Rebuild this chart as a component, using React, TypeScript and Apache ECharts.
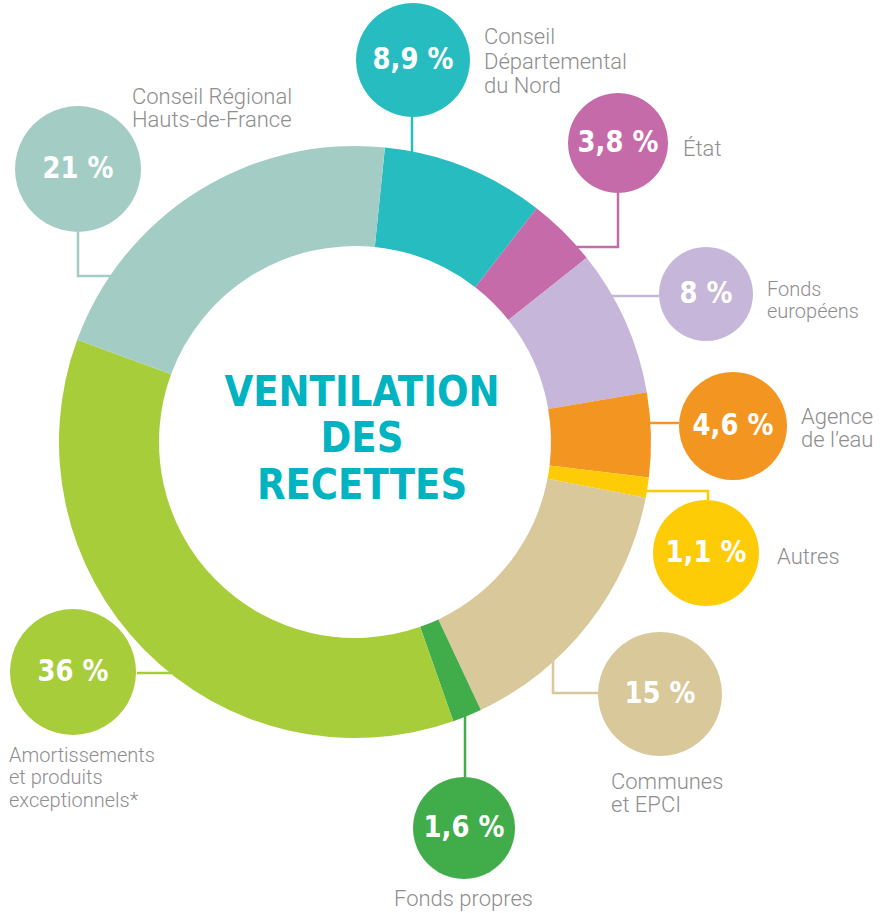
import React, { useEffect, useRef } from "react";
import * as echarts from "echarts";

// ---- data (clockwise from top) ----
const categories = [
  "Conseil Départemental du Nord",
  "État",
  "Fonds européens",
  "Agence de l'eau",
  "Autres",
  "Communes et EPCI",
  "Fonds propres",
  "Amortissements et produits exceptionnels*",
  "Conseil Régional Hauts-de-France",
];
const values = [8.9, 3.8, 8, 4.6, 1.1, 15, 1.6, 36, 21];
const labelLines = [
  ["Conseil", "Départemental", "du Nord"],
  ["État"],
  ["Fonds", "européens"],
  ["Agence", "de l’eau"],
  ["Autres"],
  ["Communes", "et EPCI"],
  ["Fonds propres"],
  ["Amortissements", "et produits", "exceptionnels*"],
  ["Conseil Régional", "Hauts-de-France"],
];
const titleLines = ["VENTILATION", "DES", "RECETTES"];

// ---- styles / layout ----
const colors = [
  "#27BCBF",
  "#C56BA9",
  "#C6B6D9",
  "#F39521",
  "#FECB07",
  "#D8C89A",
  "#40AD4A",
  "#A7CD3A",
  "#A3CDC4",
];
const CENTER = [355, 442];
// bubble: cx, cy, r ; connector polyline points ; label x, block centre y, lineHeight, font size
const bubbles = [
  { cx: 413, cy: 60, r: 57, line: [[412, 117], [412, 156]], lx: 484, ly: 61, lh: 24.5, fs: 22 },
  { cx: 618, cy: 143, r: 50, line: [[618, 193], [618, 247], [572, 247]], lx: 683, ly: 148, lh: 22, fs: 22 },
  { cx: 706, cy: 294, r: 47, line: [[659, 296], [610, 296]], lx: 767, ly: 300, lh: 22.5, fs: 20 },
  { cx: 733, cy: 426, r: 54, line: [[679, 423], [648, 423]], lx: 801, ly: 428, lh: 23.5, fs: 22 },
  { cx: 706, cy: 553, r: 53, line: [[708, 500], [708, 491], [645, 491]], lx: 777, ly: 556, lh: 22, fs: 22 },
  { cx: 660, cy: 694, r: 62, line: [[598, 693], [553, 693], [553, 660]], lx: 611, ly: 793, lh: 23.5, fs: 22 },
  { cx: 464, cy: 828, r: 51, line: [[465, 777], [465, 712]], lx: 394, ly: 898, lh: 22, fs: 22 },
  { cx: 73, cy: 672, r: 63, line: [[137, 673], [172, 673]], lx: 9, ly: 777, lh: 22.5, fs: 20 },
  { cx: 78, cy: 169, r: 63, line: [[78, 232], [78, 276], [113, 276]], lx: 132, ly: 107.5, lh: 23, fs: 22 },
];

const fmt = (v: number) => String(v).replace(".", ",") + " %";

export default function App() {
  const ref = useRef<HTMLDivElement>(null);
  useEffect(() => {
    if (!ref.current) return;
    const chart = echarts.init(ref.current, null, { renderer: "svg" });
    const graphics: any[] = [];
    bubbles.forEach((b, i) => {
      graphics.push({
        type: "polyline",
        shape: { points: b.line },
        style: { stroke: colors[i], lineWidth: 2.5, fill: null },
        z: 1,
      });
      graphics.push({
        type: "circle",
        shape: { cx: b.cx, cy: b.cy, r: b.r },
        style: { fill: colors[i] },
        z: 2,
      });
      graphics.push({
        type: "text",
        x: b.cx,
        y: b.cy - 1,
        scaleX: 0.96,
        style: {
          text: fmt(values[i]),
          fill: "#ffffff",
          font: "bold 30px 'DejaVu Sans Condensed', 'DejaVu Sans', sans-serif",
          align: "center",
          verticalAlign: "middle",
        },
        z: 3,
      });
      graphics.push({
        type: "text",
        x: b.lx,
        y: b.ly,
        style: {
          text: labelLines[i].join("\n"),
          fill: "#8e8e8e",
          fontFamily: "Roboto, 'Liberation Sans', sans-serif",
          fontWeight: 300,
          fontSize: b.fs,
          lineHeight: b.lh,
          align: "left",
          verticalAlign: "middle",
        },
        z: 3,
      });
    });
    graphics.push({
      type: "text",
      x: 362,
      y: 437.5,
      scaleX: 0.96,
      style: {
        text: titleLines.join("\n"),
        fill: "#00B3C1",
        fontFamily: "'DejaVu Sans Condensed', 'DejaVu Sans', sans-serif",
        fontWeight: "bold",
        fontSize: 43,
        lineHeight: 46.5,
        align: "center",
        verticalAlign: "middle",
      },
      z: 3,
    });

    chart.setOption({
      animation: false,
      backgroundColor: "#ffffff",
      series: [
        {
          type: "pie",
          center: CENTER,
          radius: [196, 296],
          startAngle: 84.2,
          clockwise: true,
          label: { show: false },
          labelLine: { show: false },
          silent: true,
          itemStyle: { borderWidth: 0 },
          data: categories.map((c, i) => ({
            name: c,
            value: values[i],
            itemStyle: { color: colors[i] },
          })),
          z: 2,
        },
      ],
      graphic: graphics,
    });
    return () => chart.dispose();
  }, []);
  return (
    <div
      ref={ref}
      style={{ position: "absolute", left: 0, top: 0, width: 894, height: 913 }}
    />
  );
}
